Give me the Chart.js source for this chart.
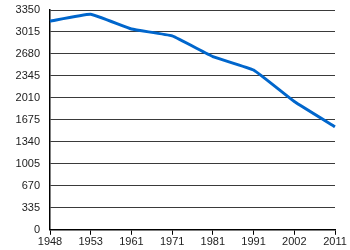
<!DOCTYPE html>
<html>
<head>
<meta charset="utf-8">
<script src="https://cdn.jsdelivr.net/npm/chart.js@4/dist/chart.umd.min.js"></script>
<style>
  html, body { margin: 0; padding: 0; background: #fff; }
  #wrap { width: 350px; height: 250px; }
</style>
</head>
<body>
<div id="wrap"><canvas id="chart"></canvas></div>
<script>
// ---------------------------------------------------------------------------- data
const annees = ['1948', '1953', '1961', '1971', '1981', '1991', '2002', '2011'];
const population = [3180, 3285, 3060, 2955, 2640, 2435, 1955, 1570];
const yMin = 0;
const yMax = 3350;
const yStep = 335;

// ---------------------------------------------------------------------------- chart
const ctx = document.getElementById('chart').getContext('2d');
const myChart = new Chart(ctx, {
    type: 'line',
    data: {
        labels: annees,
        datasets: [{
            data: population,
            borderColor: '#0066cc',
            borderWidth: 3,
            pointRadius: 0,
            tension: 0.1,
            fill: false
        }]
    },
    options: {
        responsive: true,
        maintainAspectRatio: false,
        animation: false,
        layout: {
            padding: { left: 0, right: 15, top: 10, bottom: 0 }
        },
        plugins: {
            legend: { display: false },
            tooltip: { enabled: false }
        },
        scales: {
            x: {
                offset: false,
                grid: {
                    drawOnChartArea: false,
                    drawTicks: true,
                    tickLength: 5,
                    color: '#000'
                },
                border: { color: '#000', width: 1.5 },
                ticks: {
                    color: '#222',
                    padding: 1,
                    maxRotation: 0,
                    autoSkip: false,
                    font: { family: 'Liberation Sans', size: 11 }
                }
            },
            y: {
                min: yMin,
                max: yMax,
                afterFit: (scale) => { scale.width = 50; },
                grid: {
                    drawTicks: true,
                    tickLength: 8,
                    tickColor: 'rgba(0,0,0,0)',
                    color: '#3a3a3a',
                    lineWidth: 1
                },
                border: { color: '#000', width: 1.5 },
                ticks: {
                    stepSize: yStep,
                    color: '#222',
                    padding: 2,
                    font: { family: 'Liberation Sans', size: 11 },
                    callback: (value) => String(value)
                }
            }
        }
    }
});
</script>
</body>
</html>
